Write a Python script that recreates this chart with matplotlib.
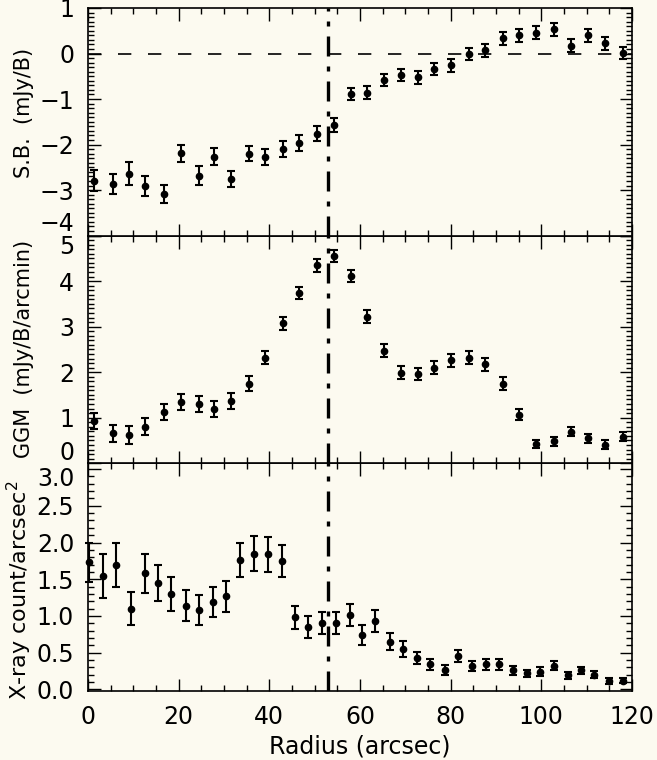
import numpy as np
import matplotlib.pyplot as plt
from matplotlib.ticker import MultipleLocator, FuncFormatter
from matplotlib.transforms import blended_transform_factory, ScaledTranslation

# --- radio profiles (S.B. and GGM share the same radii) ---
r_radio = np.array([1.4, 5.4, 9.0, 12.5, 16.7, 20.4, 24.4, 27.8, 31.5, 35.4, 39.1, 43.1,
                    46.6, 50.5, 54.2, 57.9, 61.6, 65.3, 69.0, 72.7, 76.4, 80.1, 84.0, 87.5,
                    91.5, 95.1, 98.9, 102.8, 106.5, 110.2, 114.1, 118.0])

sb = np.array([-2.79, -2.86, -2.64, -2.91, -3.08, -2.19, -2.68, -2.27, -2.75, -2.20, -2.27, -2.10,
               -1.97, -1.76, -1.57, -0.89, -0.86, -0.58, -0.47, -0.52, -0.34, -0.26, -0.01, 0.07,
               0.33, 0.40, 0.46, 0.53, 0.17, 0.40, 0.22, 0.02])
sb_err = np.array([0.24, 0.22, 0.25, 0.22, 0.20, 0.19, 0.20, 0.19, 0.18, 0.17, 0.17, 0.17,
                   0.17, 0.16, 0.15, 0.14, 0.14, 0.14, 0.14, 0.14, 0.14, 0.14, 0.14, 0.14,
                   0.15, 0.14, 0.14, 0.14, 0.14, 0.14, 0.15, 0.13])

ggm = np.array([0.93, 0.66, 0.62, 0.80, 1.13, 1.35, 1.30, 1.19, 1.37, 1.75, 2.32, 3.07,
                3.74, 4.35, 4.55, 4.11, 3.22, 2.47, 1.99, 1.96, 2.10, 2.26, 2.32, 2.17,
                1.75, 1.07, 0.42, 0.48, 0.69, 0.55, 0.41, 0.58])
ggm_err = np.array([0.17, 0.19, 0.19, 0.19, 0.18, 0.18, 0.18, 0.18, 0.18, 0.16, 0.15, 0.15,
                    0.14, 0.14, 0.13, 0.14, 0.14, 0.14, 0.14, 0.14, 0.14, 0.14, 0.14, 0.14,
                    0.14, 0.12, 0.09, 0.10, 0.10, 0.10, 0.09, 0.10])

# --- X-ray profile ---
r_xray = np.array([0.3, 3.2, 6.2, 9.5, 12.5, 15.4, 18.4, 21.5, 24.5, 27.6, 30.5, 33.6,
                   36.6, 39.6, 42.8, 45.6, 48.6, 51.7, 54.6, 57.7, 60.5, 63.4, 66.5, 69.4,
                   72.5, 75.5, 78.7, 81.7, 84.7, 87.7, 90.6, 93.7, 96.8, 99.8, 102.8, 105.8,
                   108.7, 111.7, 114.9, 117.9])
xray = np.array([1.73, 1.54, 1.70, 1.10, 1.58, 1.45, 1.30, 1.14, 1.08, 1.19, 1.27, 1.76,
                 1.85, 1.84, 1.75, 0.98, 0.85, 0.91, 0.91, 1.01, 0.74, 0.93, 0.65, 0.55,
                 0.43, 0.34, 0.26, 0.45, 0.32, 0.34, 0.34, 0.26, 0.22, 0.24, 0.32, 0.19,
                 0.26, 0.20, 0.11, 0.12])
xray_err = np.array([0.27, 0.30, 0.30, 0.23, 0.27, 0.25, 0.23, 0.21, 0.20, 0.20, 0.21, 0.23,
                     0.24, 0.24, 0.22, 0.16, 0.15, 0.15, 0.15, 0.15, 0.14, 0.15, 0.12, 0.11,
                     0.08, 0.08, 0.07, 0.08, 0.07, 0.07, 0.07, 0.06, 0.05, 0.06, 0.06, 0.05,
                     0.05, 0.05, 0.04, 0.04])

r_front = 53.0

bg = '#fcfaf0'
plt.rcParams['font.family'] = 'DejaVu Sans'
tick_fs = 17

fig = plt.figure(figsize=(6.57, 7.60), dpi=100, facecolor=bg)
left, width = 0.134, 0.828
h = 0.2995
ax3 = fig.add_axes([left, 0.091, width, h])
ax2 = fig.add_axes([left, 0.091 + h, width, h], sharex=ax3)
ax1 = fig.add_axes([left, 0.091 + 2 * h, width, h], sharex=ax3)

eb = dict(fmt='o', color='black', ms=4.5, elinewidth=1.5, capsize=3, capthick=1.5, clip_on=False)


def edge_label(ax, val, text, dy):
    # labels sitting on a shared panel edge are nudged off the edge, as in the original
    off = ScaledTranslation(-10 / 72, dy / 72, fig.dpi_scale_trans)
    tr = blended_transform_factory(ax.transAxes, ax.transData) + off
    ax.text(0, val, text, transform=tr, ha='right', va='center', fontsize=tick_fs)


def skip(vals, fmt):
    return FuncFormatter(lambda v, p: '' if any(abs(v - s) < 1e-6 for s in vals) else fmt(v))


ax1.errorbar(r_radio, sb, yerr=sb_err, **eb)
ax1.axhline(0, color='black', lw=1.2, ls=(0, (8, 10)))
ax1.set_ylim(-4, 1)
ax1.yaxis.set_major_locator(MultipleLocator(1))
ax1.yaxis.set_minor_locator(MultipleLocator(0.1))
ax1.yaxis.set_major_formatter(skip([-4], lambda v: f'{v:.0f}'.replace('-', '\u2212')))
edge_label(ax1, -4, '\u22124', 8.5)
ax1.set_ylabel('S.B.  (mJy/B)', fontsize=15)

ax2.errorbar(r_radio, ggm, yerr=ggm_err, **eb)
ax2.set_ylim(0, 5)
ax2.yaxis.set_major_locator(MultipleLocator(1))
ax2.yaxis.set_minor_locator(MultipleLocator(0.1))
ax2.yaxis.set_major_formatter(skip([0, 5], lambda v: f'{v:.0f}'))
edge_label(ax2, 5, '5', -8)
edge_label(ax2, 0, '0', 7)
ax2.set_ylabel('GGM  (mJy/B/arcmin)', fontsize=15)

ax3.errorbar(r_xray, xray, yerr=xray_err, **eb)
ax3.set_ylim(-0.02, 3.08)
ax3.yaxis.set_major_locator(MultipleLocator(0.5))
ax3.yaxis.set_minor_locator(MultipleLocator(0.1))
ax3.yaxis.set_major_formatter(skip([3.0], lambda v: f'{v:.1f}'))
edge_label(ax3, 3.0, '3.0', -7)
ax3.set_ylabel('X-ray count/arcsec$^2$', fontsize=16)
ax3.set_xlabel('Radius (arcsec)', fontsize=17, labelpad=4)

ax3.set_xlim(0, 120)
ax3.xaxis.set_major_locator(MultipleLocator(20))
ax3.xaxis.set_minor_locator(MultipleLocator(5))

for ax in (ax1, ax2, ax3):
    ax.set_facecolor(bg)
    ax.axvline(r_front, color='black', lw=2.4, ls=(0, (6, 3, 1.5, 3)))
    ax.tick_params(which='both', direction='in', top=True, right=True, labelsize=tick_fs)
    ax.tick_params(which='major', length=9, width=1, pad=10)
    ax.tick_params(which='minor', length=4.5, width=1)
    for s in ax.spines.values():
        s.set_linewidth(1.2)

ax1.yaxis.set_label_coords(-0.1, 0.54)
ax2.yaxis.set_label_coords(-0.1, 0.5)
ax3.yaxis.set_label_coords(-0.1, 0.44)

for ax in (ax1, ax2):
    ax.tick_params(labelbottom=False)

fig.savefig('out.png', dpi=100, facecolor=bg)
